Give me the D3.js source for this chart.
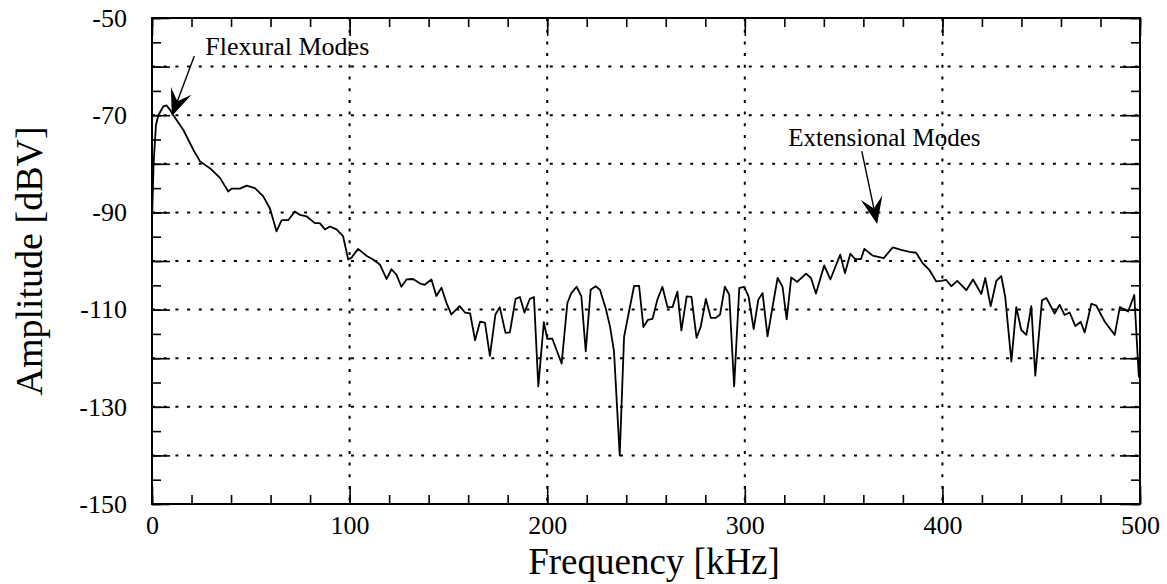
<!DOCTYPE html>
<html>
<head>
<meta charset="utf-8">
<script src="https://cdn.jsdelivr.net/npm/d3@7"></script>
<style>
  html, body { margin: 0; padding: 0; background: #fff; }
  svg { display: block; font-family: "Liberation Serif", "Times New Roman", serif; }
</style>
</head>
<body>
<svg id="chart" width="1167" height="584"></svg>
<script>
// ---- data ----
const freqKHz = [0,0.8,2,3.2,5.7,7.4,9.1,10.8,15.8,20.9,24.3,29.3,34.4,38.6,40.3,44.5,47.9,52.1,56.3,59.7,
  63,65.6,68.9,72.3,74.8,78.2,82.4,84.9,87.5,90,93.4,96.7,99.3,101,104.3,108.5,111.9,115.3,118.7,121.2,
  123.7,126.2,128.8,132.1,135.5,138,141.4,143.9,146.5,149,151.5,155.7,158.4,161,163.5,166,168.5,171,173.8,176,
  178.9,181.1,184,186.2,188.5,191.2,193.3,195.5,198.3,200,202.6,207.3,210.2,212.2,214.9,217.3,219.5,222,224.5,226.7,
  229.6,231.8,233.8,236.7,238.9,241.4,244,246.5,248.7,251,253.3,255.8,258.3,260.9,263.4,265.9,267.9,270.6,273,275.6,
  277.7,280.3,282.8,285.3,287.5,289.9,292.1,294.6,297.2,299.7,301.9,304.5,306.8,309,311.5,314.1,316.6,319.1,321.2,323.5,
  326.5,331,333.5,336,340.2,343.3,348.3,350.7,353.4,355.8,358.8,360.5,364.7,370.3,374.9,379.1,383.3,386.7,390.1,393.5,
  396.9,399.4,401.9,404.5,407.5,412.1,415.5,419.7,421.7,424.4,427.3,429.8,431.8,434.9,437.4,439.9,442.5,445,447,450.4,
  452.6,456.8,459.3,461.8,464.4,467.3,470,472,475.4,477.9,482.2,487.2,489.8,494,497.1,499.4,500];
const amplitudeDBV = [-92,-80,-72,-70,-68.2,-68,-68.9,-70,-73,-77.1,-79.5,-80.9,-82.9,-85.7,-85.1,-85.1,-84.5,-85,-86.7,-89.2,
  -93.9,-91.6,-91.6,-89.8,-90.5,-90.8,-92.2,-92.2,-93.5,-92.9,-93.5,-94.9,-99.7,-99.3,-97.5,-98.9,-99.7,-100.7,-103.7,-101.7,
  -102.8,-105.3,-103.8,-103.7,-104.6,-104.9,-103.8,-107.2,-105.5,-108.6,-111,-109.3,-110.6,-110.8,-116.3,-112.5,-112.7,-119.5,-111,-109.5,
  -114.8,-114.7,-107.8,-107.4,-110.6,-107.8,-107.4,-125.8,-112.6,-116,-116,-121.1,-108.7,-106.6,-105.3,-107.3,-118.6,-105.9,-105.2,-105.9,
  -109.7,-113.5,-118.6,-140,-115.6,-110.4,-105.1,-105.1,-113.6,-112.1,-111.9,-107.9,-105.3,-109.5,-109.5,-106.3,-114.3,-107.3,-107.4,-115.8,
  -113.5,-107.8,-111.7,-111.7,-111,-105.3,-106.9,-125.8,-105.6,-105.3,-107.3,-114,-108,-106.6,-115.5,-109.3,-103.5,-105.3,-112,-103.4,
  -104.3,-102.6,-103.5,-106.7,-100.9,-103.8,-98.7,-102.5,-98.5,-99.6,-99.6,-97.5,-98.9,-99.4,-97.2,-97.7,-98.1,-98.3,-100.5,-101.9,
  -104.2,-104.1,-103.9,-105.2,-104.1,-106,-103.8,-106.8,-103.5,-109.3,-104.1,-103.1,-107.4,-120.7,-109.5,-114.2,-115.2,-109.3,-123.6,-108.1,
  -107.6,-110.8,-109,-111.1,-110.6,-113.4,-112.5,-114.7,-108.8,-109.2,-112.5,-115.2,-109.5,-110.4,-107,-123.8,-119];

const xTickLabels = [0, 100, 200, 300, 400, 500];
const yTickLabels = [-50, -70, -90, -110, -130, -150];
const xGridValues = [100, 200, 300, 400];
const yGridValues = [-60, -70, -80, -90, -100, -110, -120, -130, -140];

// annotations: label, text anchor (kHz, dBV), arrow tail (kHz, dBV), arrow tip (kHz, dBV)
const annotationLabels = ["Flexural Modes", "Extensional Modes"];
const annotationTextPos = [[27, -57.6], [322, -76.4]];
const annotationTail = [[21.4, -57.8], [359.2, -77.4]];
const annotationTip = [[10, -70.2], [367, -92.4]];

// ---- drawing ----
const svg = d3.select("#chart");
svg.append("rect").attr("width", 1167).attr("height", 584).attr("fill", "#fff");

const x = d3.scaleLinear().domain([0, 500]).range([152, 1140]);
const y = d3.scaleLinear().domain([-150, -50]).range([504, 18]);
const [x0, x1] = x.range();
const [yb, yt] = y.range();
const fmt = d => String(d);

// grid
const grid = svg.append("g").attr("stroke", "#000").attr("stroke-width", 2).attr("stroke-dasharray", "3,8.7");
grid.selectAll("line.h").data(yGridValues).join("line").attr("class", "h")
  .attr("x1", x0).attr("x2", x1).attr("y1", d => y(d)).attr("y2", d => y(d));
grid.selectAll("line.v").data(xGridValues).join("line").attr("class", "v")
  .attr("y1", yt).attr("y2", yb).attr("x1", d => x(d)).attr("x2", d => x(d));

function cleanAxis(g) { g.select(".domain").remove(); g.selectAll("line").attr("stroke", "#000").attr("stroke-width", 1.6); }
function styleText(g) { g.selectAll("text").attr("font-size", 26).attr("fill", "#000").attr("font-family", "Liberation Serif"); }

// bottom ticks
svg.append("g").attr("transform", `translate(0,${yb})`)
  .call(d3.axisBottom(x).tickValues(d3.range(0, 501, 20)).tickSizeInner(-9).tickSizeOuter(0).tickFormat(""))
  .call(cleanAxis);
svg.append("g").attr("transform", `translate(0,${yb})`)
  .call(d3.axisBottom(x).tickValues(xTickLabels).tickSizeInner(-18).tickSizeOuter(0).tickPadding(12).tickFormat(fmt))
  .call(cleanAxis).call(styleText);
// top ticks
svg.append("g").attr("transform", `translate(0,${yt})`)
  .call(d3.axisTop(x).tickValues(d3.range(0, 501, 20)).tickSizeInner(-9).tickSizeOuter(0).tickFormat(""))
  .call(cleanAxis);
svg.append("g").attr("transform", `translate(0,${yt})`)
  .call(d3.axisTop(x).tickValues(xTickLabels).tickSizeInner(-18).tickSizeOuter(0).tickFormat(""))
  .call(cleanAxis);
// left ticks
svg.append("g").attr("transform", `translate(${x0},0)`)
  .call(d3.axisLeft(y).tickValues(d3.range(-150, -49, 5)).tickSizeInner(-9).tickSizeOuter(0).tickFormat(""))
  .call(cleanAxis);
svg.append("g").attr("transform", `translate(${x0},0)`)
  .call(d3.axisLeft(y).tickValues(d3.range(-150, -49, 10)).tickSizeInner(-18).tickSizeOuter(0).tickFormat(""))
  .call(cleanAxis);
svg.append("g").attr("transform", `translate(${x0},0)`)
  .call(d3.axisLeft(y).tickValues(yTickLabels).tickSize(0).tickPadding(25).tickFormat(fmt))
  .call(cleanAxis).call(styleText);
// right ticks
svg.append("g").attr("transform", `translate(${x1},0)`)
  .call(d3.axisRight(y).tickValues(d3.range(-150, -49, 5)).tickSizeInner(-9).tickSizeOuter(0).tickFormat(""))
  .call(cleanAxis);
svg.append("g").attr("transform", `translate(${x1},0)`)
  .call(d3.axisRight(y).tickValues(d3.range(-150, -49, 10)).tickSizeInner(-20).tickSizeOuter(0).tickFormat(""))
  .call(cleanAxis);

// frame
svg.append("rect").attr("x", x0).attr("y", yt).attr("width", x1 - x0).attr("height", yb - yt)
  .attr("fill", "none").attr("stroke", "#000").attr("stroke-width", 2);

// data line
const pts = freqKHz.map((f, i) => [f, amplitudeDBV[i]]);
svg.append("path").datum(pts)
  .attr("fill", "none").attr("stroke", "#000").attr("stroke-width", 1.8).attr("stroke-linejoin", "round")
  .attr("d", d3.line().x(d => x(d[0])).y(d => y(d[1])));

// annotations
const annotationSizes = [26, 25];
annotationLabels.forEach((label, i) => {
  svg.append("text").attr("x", x(annotationTextPos[i][0])).attr("y", y(annotationTextPos[i][1]))
    .attr("font-size", annotationSizes[i]).attr("fill", "#000").text(label);
  const tx = x(annotationTail[i][0]), ty = y(annotationTail[i][1]);
  const hx = x(annotationTip[i][0]), hy = y(annotationTip[i][1]);
  const dx = hx - tx, dy = hy - ty, len = Math.hypot(dx, dy);
  const ux = dx / len, uy = dy / len, nx = -uy, ny = ux;
  const headLen = 27, halfW = 11, notch = 16;
  const bx = hx - ux * headLen, by = hy - uy * headLen;
  svg.append("line").attr("x1", tx).attr("y1", ty).attr("x2", hx - ux * notch).attr("y2", hy - uy * notch)
    .attr("stroke", "#000").attr("stroke-width", 1.4);
  const head = [[hx, hy], [bx + nx * halfW, by + ny * halfW], [hx - ux * notch, hy - uy * notch], [bx - nx * halfW, by - ny * halfW]];
  svg.append("path").attr("d", "M" + head.map(p => p.join(",")).join("L") + "Z").attr("fill", "#000");
});

// axis titles
svg.append("text").attr("x", (x0 + x1) / 2 + 8).attr("y", 574).attr("text-anchor", "middle")
  .attr("font-size", 37).attr("fill", "#000").text("Frequency [kHz]");
svg.append("text").attr("transform", `translate(42,${(yt + yb) / 2}) rotate(-90)`).attr("text-anchor", "middle")
  .attr("font-size", 38).attr("fill", "#000").text("Amplitude [dBV]");
</script>
</body>
</html>
